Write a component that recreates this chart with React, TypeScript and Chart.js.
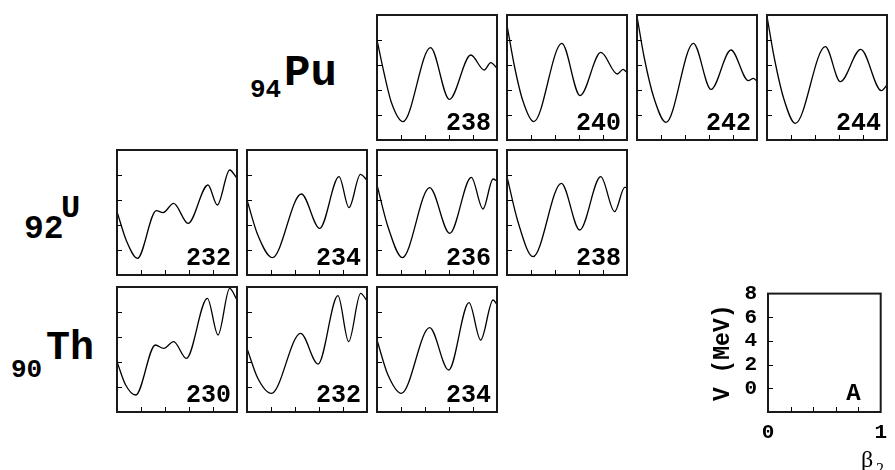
import React, { useEffect, useRef } from 'react';
import { Chart, registerables } from 'chart.js';

Chart.register(...registerables);

// ---------- data (beta_2 deformation vs potential energy V in MeV) ----------
const xTickValues = [0.2, 0.4, 0.6, 0.8];
const yTickValues = [0, 2, 4, 6];
const legendXLabels = ['0', '1'];
const legendYLabels = ['0', '2', '4', '6', '8'];

const pu238Beta = [0, 0.06, 0.12, 0.217, 0.446, 0.603, 0.782, 0.893, 0.948, 1];
const pu238V = [6.0, 3.3, 1.0, -0.53, 5.39, 1.25, 4.8, 3.6, 4.19, 3.74];

const pu240Beta = [0, 0.06, 0.13, 0.223, 0.457, 0.609, 0.782, 0.92, 0.967, 1];
const pu240V = [7.2, 4.0, 1.2, -0.53, 5.73, 1.55, 5.01, 3.28, 3.65, 3.4];

const pu242Beta = [0, 0.06, 0.14, 0.242, 0.47, 0.617, 0.783, 0.928, 0.97, 1];
const pu242V = [7.9, 4.6, 1.4, -0.59, 5.73, 2.05, 5.2, 2.75, 2.93, 2.7];

const pu244Beta = [0, 0.06, 0.14, 0.236, 0.486, 0.611, 0.781, 0.953, 1];
const pu244V = [7.9, 4.6, 1.3, -0.67, 5.47, 2.67, 5.25, 1.95, 2.4];

const u232Beta = [0, 0.08, 0.17, 0.328, 0.383, 0.472, 0.592, 0.758, 0.836, 0.939, 1];
const u232V = [3.07, 0.7, -0.67, 3.15, 2.99, 3.73, 2.13, 5.2, 3.6, 6.4, 5.73];

const u234Beta = [0, 0.09, 0.211, 0.453, 0.606, 0.767, 0.85, 0.945, 1];
const u234V = [4.0, 1.2, -0.61, 4.48, 1.73, 5.87, 3.39, 6.05, 5.6];

const u236Beta = [0, 0.09, 0.211, 0.439, 0.606, 0.786, 0.883, 0.967, 1];
const u236V = [5.2, 1.9, -0.61, 4.99, 1.33, 5.81, 3.28, 5.68, 5.5];

const u238Beta = [0, 0.09, 0.217, 0.453, 0.606, 0.781, 0.897, 0.981, 1];
const u238V = [5.87, 2.3, -0.53, 5.33, 1.6, 5.87, 3.07, 5.01, 5.0];

const th230Beta = [0, 0.07, 0.156, 0.32, 0.389, 0.472, 0.578, 0.753, 0.842, 0.939, 1];
const th230V = [2.03, 0.2, -0.64, 3.36, 3.09, 3.63, 2.29, 7.09, 4.16, 7.89, 6.96];

const th232Beta = [0, 0.09, 0.203, 0.447, 0.592, 0.758, 0.847, 0.947, 1];
const th232V = [3.09, 0.7, -0.51, 4.29, 1.84, 7.31, 3.63, 7.49, 6.9];

const th234Beta = [0, 0.09, 0.203, 0.439, 0.597, 0.767, 0.864, 0.967, 1];
const th234V = [3.76, 1.0, -0.51, 4.75, 1.36, 6.75, 3.76, 6.96, 6.6];

const panelLabels = ['238', '240', '242', '244', '232', '234', '236', '238', '230', '232', '234'];
const panelBetas = [pu238Beta, pu240Beta, pu242Beta, pu244Beta, u232Beta, u234Beta, u236Beta, u238Beta, th230Beta, th232Beta, th234Beta];
const panelVs = [pu238V, pu240V, pu242V, pu244V, u232V, u234V, u236V, u238V, th230V, th232V, th234V];

// ---------- layout ----------
const panelLefts = [377, 507, 637, 767, 117, 247, 377, 507, 117, 247, 377];
const panelTops = [15, 15, 15, 15, 150, 150, 150, 150, 287, 287, 287];
const BOX_W = 120;
const BOX_H = 125;
const PAD = 4;
const MONO = '"Liberation Mono", "Courier New", monospace';

const framePlugin = {
  id: 'frame',
  afterDatasetsDraw(chart: any, _args: any, opts: any) {
    const { ctx, chartArea: a, scales } = chart;
    ctx.save();
    ctx.strokeStyle = '#1a1a1a';
    ctx.lineWidth = 2;
    ctx.strokeRect(a.left, a.top, a.right - a.left, a.bottom - a.top);
    ctx.strokeStyle = '#000';
    ctx.lineWidth = 1;
    ctx.beginPath();
    for (const t of xTickValues) {
      const x = Math.round(scales.x.getPixelForValue(t)) + 0.5;
      ctx.moveTo(x, a.bottom);
      ctx.lineTo(x, a.bottom - 5);
    }
    for (const t of yTickValues) {
      const y = Math.round(scales.y.getPixelForValue(t)) + 0.5;
      ctx.moveTo(a.left, y);
      ctx.lineTo(a.left + 5, y);
    }
    ctx.stroke();
    if (opts && opts.label) {
      ctx.font = `bold ${opts.size}px ${MONO}`;
      ctx.fillStyle = '#000';
      ctx.textAlign = 'right';
      ctx.textBaseline = 'alphabetic';
      ctx.fillText(opts.label, a.right - opts.dx, a.bottom - opts.dy);
    }
    ctx.restore();
  },
};

function Panel({ idx }: { idx: number }) {
  const ref = useRef<HTMLCanvasElement>(null);
  useEffect(() => {
    const beta = panelBetas[idx];
    const v = panelVs[idx];
    const chart = new Chart(ref.current!, {
      type: 'line',
      data: {
        datasets: [
          {
            data: beta.map((b, i) => ({ x: b, y: v[i] })),
            borderColor: '#000',
            borderWidth: 1.3,
            pointRadius: 0,
            cubicInterpolationMode: 'monotone',
            fill: false,
          },
        ],
      },
      options: {
        animation: false,
        responsive: false,
        maintainAspectRatio: false,
        events: [],
        layout: { padding: PAD },
        plugins: {
          legend: { display: false },
          tooltip: { enabled: false },
          frame: { label: panelLabels[idx], size: 25, dx: 6, dy: 10 },
        } as any,
        scales: {
          x: { type: 'linear', min: 0, max: 1, display: false },
          y: { type: 'linear', min: -2, max: 8, display: false },
        },
      },
      plugins: [framePlugin],
    });
    return () => chart.destroy();
  }, [idx]);
  const w = BOX_W + 2 * PAD;
  const h = BOX_H + 2 * PAD;
  return (
    <canvas
      ref={ref}
      width={w}
      height={h}
      style={{ position: 'absolute', left: panelLefts[idx] - PAD, top: panelTops[idx] - PAD, width: w, height: h }}
    />
  );
}

function LegendPanel() {
  const ref = useRef<HTMLCanvasElement>(null);
  useEffect(() => {
    const tickFont = { family: MONO, size: 21, weight: 'bold' as const };
    const chart = new Chart(ref.current!, {
      type: 'line',
      data: { datasets: [] },
      options: {
        animation: false,
        responsive: false,
        maintainAspectRatio: false,
        events: [],
        layout: { padding: { top: 17, right: 8, left: 0, bottom: 0 } },
        plugins: {
          legend: { display: false },
          tooltip: { enabled: false },
          frame: { label: 'A', size: 24, dx: 20, dy: 12 },
        } as any,
        scales: {
          x: {
            type: 'linear',
            min: 0,
            max: 1,
            grid: { display: false, drawTicks: false },
            border: { display: false },
            ticks: {
              stepSize: 0.2,
              autoSkip: false,
              maxRotation: 0,
              padding: 8,
              color: '#000',
              font: tickFont,
              callback: (val: any) => {
                const s = String(Math.round(Number(val) * 10) / 10);
                return legendXLabels.includes(s) ? s : '';
              },
            },
            afterFit: (s: any) => {
              s.height = 58;
            },
          },
          y: {
            type: 'linear',
            min: -2,
            max: 8,
            grid: { display: false, drawTicks: false },
            border: { display: false },
            ticks: {
              stepSize: 2,
              autoSkip: false,
              padding: 11,
              color: '#000',
              font: tickFont,
              callback: (val: any) => {
                const s = String(val);
                return legendYLabels.includes(s) ? s : '';
              },
            },
            title: {
              display: true,
              text: 'V (MeV)',
              color: '#000',
              font: { family: MONO, size: 23, weight: 'bold' },
              padding: { top: 19, bottom: 0 },
            },
            afterFit: (s: any) => {
              s.width = 78;
            },
          },
        },
      },
      plugins: [framePlugin],
    });
    return () => chart.destroy();
  }, []);
  return (
    <canvas
      ref={ref}
      width={205}
      height={200}
      style={{ position: 'absolute', left: 690, top: 270, width: 205, height: 200 }}
    />
  );
}

function Txt({ text, left, baseline, size, family = MONO, weight = 'bold', asc = 0.7665 }: any) {
  return (
    <div
      style={{
        position: 'absolute',
        left,
        top: baseline - asc * size,
        fontFamily: family,
        fontWeight: weight,
        fontSize: size,
        lineHeight: `${size}px`,
        whiteSpace: 'nowrap',
        color: '#000',
      }}
    >
      {text}
    </div>
  );
}

export default function App() {
  return (
    <div style={{ position: 'absolute', left: 0, top: 0, width: 895, height: 470, background: '#fff', overflow: 'hidden' }}>
      {panelLabels.map((_, i) => (
        <Panel key={i} idx={i} />
      ))}
      <LegendPanel />
      <Txt text="94" left={250} baseline={97} size={26} />
      <Txt text="Pu" left={284} baseline={85} size={44} />
      <Txt text="92" left={24} baseline={238} size={33} />
      <Txt text="U" left={61} baseline={218} size={32} />
      <Txt text="90" left={11} baseline={377} size={26} />
      <Txt text="Th" left={46} baseline={360} size={40} />
      <Txt text="β" left={861} baseline={467} size={24} family='"Liberation Serif", "Times New Roman", serif' weight="normal" asc={0.8375} />
      <Txt text="2" left={876} baseline={474} size={16} family='"Liberation Serif", "Times New Roman", serif' weight="normal" asc={0.8375} />
    </div>
  );
}
